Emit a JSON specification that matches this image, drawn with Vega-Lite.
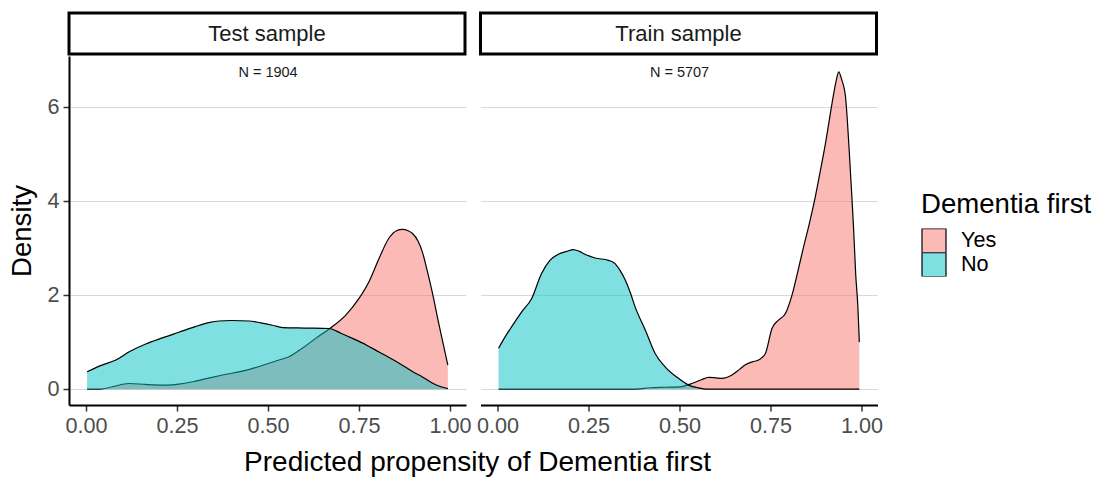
{
  "$schema": "https://vega.github.io/schema/vega-lite/v6.json",
  "padding": {"left": 8, "top": 11, "right": 0, "bottom": 0},
  "autosize": {"type": "pad"},
  "spacing": 3.5,
  "title": {
    "text": "Predicted propensity of Dementia first",
    "orient": "bottom",
    "anchor": "middle",
    "fontSize": 28,
    "fontWeight": "normal",
    "color": "#000000",
    "font": "Liberation Sans",
    "offset": 12,
    "dx": -73
  },
  "config": {
    "font": "Liberation Sans",
    "view": {"stroke": null},
    "axis": {
      "labelFont": "Liberation Sans",
      "titleFont": "Liberation Sans",
      "labelFontSize": 21.6,
      "labelColor": "#4D4D4D",
      "titleFontSize": 27.6,
      "titleFontWeight": "normal",
      "titleColor": "#000000",
      "tickColor": "#333333",
      "tickSize": 6,
      "tickWidth": 1.5,
      "domainColor": "#000000",
      "domainWidth": 2,
      "gridColor": "#D9D9D9",
      "gridWidth": 1
    },
    "legend": {
      "titleFont": "Liberation Sans",
      "labelFont": "Liberation Sans",
      "titleFontSize": 27.6,
      "titleFontWeight": "normal",
      "titleColor": "#000000",
      "labelFontSize": 21.6,
      "labelColor": "#000000"
    }
  },
  "datasets": {
    "strips": [
      {"sample": "Test sample", "label": "N = 1904"},
      {"sample": "Train sample", "label": "N = 5707"}
    ],
    "curves": [
      {"sample": "Test sample", "group": "No", "x": 0.003, "density": 0.37},
      {"sample": "Test sample", "group": "No", "x": 0.04, "density": 0.5},
      {"sample": "Test sample", "group": "No", "x": 0.082, "density": 0.62},
      {"sample": "Test sample", "group": "No", "x": 0.12, "density": 0.8},
      {"sample": "Test sample", "group": "No", "x": 0.164, "density": 0.96},
      {"sample": "Test sample", "group": "No", "x": 0.21, "density": 1.09},
      {"sample": "Test sample", "group": "No", "x": 0.255, "density": 1.21},
      {"sample": "Test sample", "group": "No", "x": 0.3, "density": 1.33},
      {"sample": "Test sample", "group": "No", "x": 0.34, "density": 1.42},
      {"sample": "Test sample", "group": "No", "x": 0.365, "density": 1.45},
      {"sample": "Test sample", "group": "No", "x": 0.4, "density": 1.46},
      {"sample": "Test sample", "group": "No", "x": 0.448, "density": 1.45},
      {"sample": "Test sample", "group": "No", "x": 0.48, "density": 1.41},
      {"sample": "Test sample", "group": "No", "x": 0.512, "density": 1.36},
      {"sample": "Test sample", "group": "No", "x": 0.54, "density": 1.31},
      {"sample": "Test sample", "group": "No", "x": 0.6, "density": 1.3},
      {"sample": "Test sample", "group": "No", "x": 0.668, "density": 1.29},
      {"sample": "Test sample", "group": "No", "x": 0.7, "density": 1.19},
      {"sample": "Test sample", "group": "No", "x": 0.732, "density": 1.08},
      {"sample": "Test sample", "group": "No", "x": 0.77, "density": 0.94},
      {"sample": "Test sample", "group": "No", "x": 0.805, "density": 0.79},
      {"sample": "Test sample", "group": "No", "x": 0.84, "density": 0.64},
      {"sample": "Test sample", "group": "No", "x": 0.869, "density": 0.51},
      {"sample": "Test sample", "group": "No", "x": 0.9, "density": 0.36},
      {"sample": "Test sample", "group": "No", "x": 0.924, "density": 0.26},
      {"sample": "Test sample", "group": "No", "x": 0.951, "density": 0.13},
      {"sample": "Test sample", "group": "No", "x": 0.975, "density": 0.05},
      {"sample": "Test sample", "group": "No", "x": 0.994, "density": 0.01},

      {"sample": "Test sample", "group": "Yes", "x": 0.003, "density": 0.0},
      {"sample": "Test sample", "group": "Yes", "x": 0.04, "density": 0.0},
      {"sample": "Test sample", "group": "Yes", "x": 0.072, "density": 0.05},
      {"sample": "Test sample", "group": "Yes", "x": 0.118, "density": 0.12},
      {"sample": "Test sample", "group": "Yes", "x": 0.164, "density": 0.1},
      {"sample": "Test sample", "group": "Yes", "x": 0.223, "density": 0.085},
      {"sample": "Test sample", "group": "Yes", "x": 0.26, "density": 0.11},
      {"sample": "Test sample", "group": "Yes", "x": 0.301, "density": 0.17},
      {"sample": "Test sample", "group": "Yes", "x": 0.34, "density": 0.24},
      {"sample": "Test sample", "group": "Yes", "x": 0.375, "density": 0.3},
      {"sample": "Test sample", "group": "Yes", "x": 0.439, "density": 0.4},
      {"sample": "Test sample", "group": "Yes", "x": 0.503, "density": 0.55},
      {"sample": "Test sample", "group": "Yes", "x": 0.53, "density": 0.62},
      {"sample": "Test sample", "group": "Yes", "x": 0.558, "density": 0.69},
      {"sample": "Test sample", "group": "Yes", "x": 0.594, "density": 0.87},
      {"sample": "Test sample", "group": "Yes", "x": 0.631, "density": 1.08},
      {"sample": "Test sample", "group": "Yes", "x": 0.668, "density": 1.28},
      {"sample": "Test sample", "group": "Yes", "x": 0.713, "density": 1.57},
      {"sample": "Test sample", "group": "Yes", "x": 0.75, "density": 1.93},
      {"sample": "Test sample", "group": "Yes", "x": 0.777, "density": 2.28},
      {"sample": "Test sample", "group": "Yes", "x": 0.805, "density": 2.78},
      {"sample": "Test sample", "group": "Yes", "x": 0.832, "density": 3.21},
      {"sample": "Test sample", "group": "Yes", "x": 0.853, "density": 3.37},
      {"sample": "Test sample", "group": "Yes", "x": 0.869, "density": 3.4},
      {"sample": "Test sample", "group": "Yes", "x": 0.885, "density": 3.37},
      {"sample": "Test sample", "group": "Yes", "x": 0.897, "density": 3.31},
      {"sample": "Test sample", "group": "Yes", "x": 0.912, "density": 3.15},
      {"sample": "Test sample", "group": "Yes", "x": 0.924, "density": 2.92},
      {"sample": "Test sample", "group": "Yes", "x": 0.938, "density": 2.5},
      {"sample": "Test sample", "group": "Yes", "x": 0.951, "density": 2.07},
      {"sample": "Test sample", "group": "Yes", "x": 0.97, "density": 1.36},
      {"sample": "Test sample", "group": "Yes", "x": 0.994, "density": 0.51},

      {"sample": "Train sample", "group": "No", "x": 0.003, "density": 0.87},
      {"sample": "Train sample", "group": "No", "x": 0.02, "density": 1.1},
      {"sample": "Train sample", "group": "No", "x": 0.039, "density": 1.33},
      {"sample": "Train sample", "group": "No", "x": 0.066, "density": 1.64},
      {"sample": "Train sample", "group": "No", "x": 0.094, "density": 1.93},
      {"sample": "Train sample", "group": "No", "x": 0.121, "density": 2.46},
      {"sample": "Train sample", "group": "No", "x": 0.144, "density": 2.74},
      {"sample": "Train sample", "group": "No", "x": 0.167, "density": 2.87},
      {"sample": "Train sample", "group": "No", "x": 0.19, "density": 2.93},
      {"sample": "Train sample", "group": "No", "x": 0.208, "density": 2.97},
      {"sample": "Train sample", "group": "No", "x": 0.225, "density": 2.93},
      {"sample": "Train sample", "group": "No", "x": 0.24, "density": 2.87},
      {"sample": "Train sample", "group": "No", "x": 0.268, "density": 2.79},
      {"sample": "Train sample", "group": "No", "x": 0.305, "density": 2.74},
      {"sample": "Train sample", "group": "No", "x": 0.323, "density": 2.67},
      {"sample": "Train sample", "group": "No", "x": 0.337, "density": 2.52},
      {"sample": "Train sample", "group": "No", "x": 0.351, "density": 2.32},
      {"sample": "Train sample", "group": "No", "x": 0.365, "density": 2.05},
      {"sample": "Train sample", "group": "No", "x": 0.378, "density": 1.75},
      {"sample": "Train sample", "group": "No", "x": 0.406, "density": 1.26},
      {"sample": "Train sample", "group": "No", "x": 0.433, "density": 0.76},
      {"sample": "Train sample", "group": "No", "x": 0.461, "density": 0.47},
      {"sample": "Train sample", "group": "No", "x": 0.497, "density": 0.23},
      {"sample": "Train sample", "group": "No", "x": 0.525, "density": 0.085},
      {"sample": "Train sample", "group": "No", "x": 0.55, "density": 0.03},
      {"sample": "Train sample", "group": "No", "x": 0.575, "density": 0.0},
      {"sample": "Train sample", "group": "No", "x": 0.994, "density": 0.0},

      {"sample": "Train sample", "group": "Yes", "x": 0.003, "density": 0.0},
      {"sample": "Train sample", "group": "Yes", "x": 0.38, "density": 0.0},
      {"sample": "Train sample", "group": "Yes", "x": 0.42, "density": 0.03},
      {"sample": "Train sample", "group": "Yes", "x": 0.46, "density": 0.04},
      {"sample": "Train sample", "group": "Yes", "x": 0.5, "density": 0.05},
      {"sample": "Train sample", "group": "Yes", "x": 0.534, "density": 0.12},
      {"sample": "Train sample", "group": "Yes", "x": 0.56, "density": 0.2},
      {"sample": "Train sample", "group": "Yes", "x": 0.58, "density": 0.25},
      {"sample": "Train sample", "group": "Yes", "x": 0.6, "density": 0.24},
      {"sample": "Train sample", "group": "Yes", "x": 0.616, "density": 0.23},
      {"sample": "Train sample", "group": "Yes", "x": 0.644, "density": 0.3},
      {"sample": "Train sample", "group": "Yes", "x": 0.665, "density": 0.42},
      {"sample": "Train sample", "group": "Yes", "x": 0.681, "density": 0.52},
      {"sample": "Train sample", "group": "Yes", "x": 0.7, "density": 0.58},
      {"sample": "Train sample", "group": "Yes", "x": 0.717, "density": 0.62},
      {"sample": "Train sample", "group": "Yes", "x": 0.736, "density": 0.76},
      {"sample": "Train sample", "group": "Yes", "x": 0.754, "density": 1.29},
      {"sample": "Train sample", "group": "Yes", "x": 0.772, "density": 1.47},
      {"sample": "Train sample", "group": "Yes", "x": 0.791, "density": 1.61},
      {"sample": "Train sample", "group": "Yes", "x": 0.809, "density": 2.0},
      {"sample": "Train sample", "group": "Yes", "x": 0.827, "density": 2.57},
      {"sample": "Train sample", "group": "Yes", "x": 0.84, "density": 3.0},
      {"sample": "Train sample", "group": "Yes", "x": 0.855, "density": 3.47},
      {"sample": "Train sample", "group": "Yes", "x": 0.873, "density": 4.09},
      {"sample": "Train sample", "group": "Yes", "x": 0.887, "density": 4.65},
      {"sample": "Train sample", "group": "Yes", "x": 0.901, "density": 5.23},
      {"sample": "Train sample", "group": "Yes", "x": 0.919, "density": 6.08},
      {"sample": "Train sample", "group": "Yes", "x": 0.93, "density": 6.55},
      {"sample": "Train sample", "group": "Yes", "x": 0.9375, "density": 6.75},
      {"sample": "Train sample", "group": "Yes", "x": 0.945, "density": 6.6},
      {"sample": "Train sample", "group": "Yes", "x": 0.956, "density": 6.22},
      {"sample": "Train sample", "group": "Yes", "x": 0.965, "density": 5.23},
      {"sample": "Train sample", "group": "Yes", "x": 0.974, "density": 4.02},
      {"sample": "Train sample", "group": "Yes", "x": 0.978, "density": 3.45},
      {"sample": "Train sample", "group": "Yes", "x": 0.984, "density": 2.45},
      {"sample": "Train sample", "group": "Yes", "x": 0.99, "density": 1.75},
      {"sample": "Train sample", "group": "Yes", "x": 0.994, "density": 1.0}
    ]
  },
  "resolve": {"scale": {"fill": "shared"}},
  "hconcat": [
    {
      "bounds": "flush",
      "spacing": 2,
      "vconcat": [
        {
          "width": 396,
          "height": 41,
          "view": {"stroke": "#000000", "strokeWidth": 3, "fill": "#FFFFFF"},
          "data": {"name": "strips"},
          "transform": [{"filter": "datum.sample === 'Test sample'"}],
          "mark": {"type": "text", "fontSize": 22, "color": "#1A1A1A", "baseline": "middle", "align": "center"},
          "encoding": {"text": {"field": "sample", "type": "nominal"}}
        },
        {
          "width": 397,
          "height": 349,
          "layer": [
            {
              "data": {"name": "curves"},
              "transform": [{"filter": "datum.sample === 'Test sample'"}],
              "encoding": {
                "x": {
                  "field": "x", "type": "quantitative",
                  "scale": {"domain": [-0.0467, 1.0439], "nice": false, "zero": false},
                  "axis": {"values": [0, 0.25, 0.5, 0.75, 1], "format": ".2f", "grid": false, "title": null, "labelPadding": 4, "labelFlush": false}
                },
                "y": {
                  "field": "density", "type": "quantitative",
                  "scale": {"domain": [-0.3375, 7.0875], "nice": false, "zero": false},
                  "axis": {"values": [0, 2, 4, 6], "grid": true, "title": "Density", "labelPadding": 4, "titlePadding": 10}
                }
              },
              "layer": [
                {
                  "transform": [{"filter": "datum.group === 'Yes'"}],
                  "mark": {"type": "area", "fillOpacity": 0.5, "interpolate": "monotone"},
                  "encoding": {
                    "y": {"field": "density", "type": "quantitative", "stack": null},
                    "y2": {"datum": 0},
                    "fill": {
                      "field": "group", "type": "nominal", "title": "Dementia first",
                      "scale": {"domain": ["Yes", "No"], "range": ["#F8766D", "#00BFC4"]},
                      "legend": {
                        "orient": "none", "legendX": 852, "legendY": 178,
                        "symbolType": "square", "symbolSize": 576, "symbolStrokeColor": "#000000",
                        "symbolStrokeWidth": 1.2, "rowPadding": 0, "clipHeight": 24, "labelOffset": 14, "titlePadding": 10,
                        "encode": {"symbols": {"update": {"fillOpacity": {"value": 0.5}, "stroke": {"value": "#000000"}}}}
                      }
                    }
                  }
                },
                {
                  "transform": [{"filter": "datum.group === 'Yes'"}],
                  "mark": {"type": "line", "color": "#000000", "strokeWidth": 1.2, "interpolate": "monotone"}
                },
                {
                  "transform": [{"filter": "datum.group === 'No'"}],
                  "mark": {"type": "area", "fillOpacity": 0.5, "interpolate": "monotone"},
                  "encoding": {
                    "y": {"field": "density", "type": "quantitative", "stack": null},
                    "y2": {"datum": 0},
                    "fill": {"field": "group", "type": "nominal", "title": "Dementia first"}
                  }
                },
                {
                  "transform": [{"filter": "datum.group === 'No'"}],
                  "mark": {"type": "line", "color": "#000000", "strokeWidth": 1.2, "interpolate": "monotone"}
                }
              ]
            },
            {
              "data": {"values": [{"sample": "Test sample", "label": "N = 1904"}]},
              "mark": {"type": "text", "fontSize": 14.5, "color": "#1A1A1A", "baseline": "middle", "align": "center"},
              "encoding": {
                "x": {"datum": 0.5, "type": "quantitative"},
                "y": {"datum": 6.72, "type": "quantitative"},
                "text": {"field": "label", "type": "nominal"}
              }
            }
          ]
        }
      ]
    },
    {
      "bounds": "flush",
      "spacing": 2,
      "vconcat": [
        {
          "width": 396,
          "height": 41,
          "view": {"stroke": "#000000", "strokeWidth": 3, "fill": "#FFFFFF"},
          "data": {"name": "strips"},
          "transform": [{"filter": "datum.sample === 'Train sample'"}],
          "mark": {"type": "text", "fontSize": 22, "color": "#1A1A1A", "baseline": "middle", "align": "center"},
          "encoding": {"text": {"field": "sample", "type": "nominal"}}
        },
        {
          "width": 397,
          "height": 349,
          "layer": [
            {
              "data": {"name": "curves"},
              "transform": [{"filter": "datum.sample === 'Train sample'"}],
              "encoding": {
                "x": {
                  "field": "x", "type": "quantitative",
                  "scale": {"domain": [-0.0467, 1.0439], "nice": false, "zero": false},
                  "axis": {"values": [0, 0.25, 0.5, 0.75, 1], "format": ".2f", "grid": false, "title": null, "labelPadding": 4, "labelFlush": false}
                },
                "y": {
                  "field": "density", "type": "quantitative",
                  "scale": {"domain": [-0.3375, 7.0875], "nice": false, "zero": false},
                  "axis": {"values": [0, 2, 4, 6], "grid": true, "title": null, "labels": false, "ticks": false, "domain": false}
                }
              },
              "layer": [
                {
                  "transform": [{"filter": "datum.group === 'Yes'"}],
                  "mark": {"type": "area", "fillOpacity": 0.5, "interpolate": "monotone"},
                  "encoding": {
                    "y": {"field": "density", "type": "quantitative", "stack": null},
                    "y2": {"datum": 0},
                    "fill": {"field": "group", "type": "nominal", "title": "Dementia first"}
                  }
                },
                {
                  "transform": [{"filter": "datum.group === 'Yes'"}],
                  "mark": {"type": "line", "color": "#000000", "strokeWidth": 1.2, "interpolate": "monotone"}
                },
                {
                  "transform": [{"filter": "datum.group === 'No'"}],
                  "mark": {"type": "area", "fillOpacity": 0.5, "interpolate": "monotone"},
                  "encoding": {
                    "y": {"field": "density", "type": "quantitative", "stack": null},
                    "y2": {"datum": 0},
                    "fill": {"field": "group", "type": "nominal", "title": "Dementia first"}
                  }
                },
                {
                  "transform": [{"filter": "datum.group === 'No'"}],
                  "mark": {"type": "line", "color": "#000000", "strokeWidth": 1.2, "interpolate": "monotone"}
                }
              ]
            },
            {
              "data": {"values": [{"sample": "Train sample", "label": "N = 5707"}]},
              "mark": {"type": "text", "fontSize": 14.5, "color": "#1A1A1A", "baseline": "middle", "align": "center"},
              "encoding": {
                "x": {"datum": 0.5, "type": "quantitative"},
                "y": {"datum": 6.72, "type": "quantitative"},
                "text": {"field": "label", "type": "nominal"}
              }
            }
          ]
        }
      ]
    }
  ]
}
